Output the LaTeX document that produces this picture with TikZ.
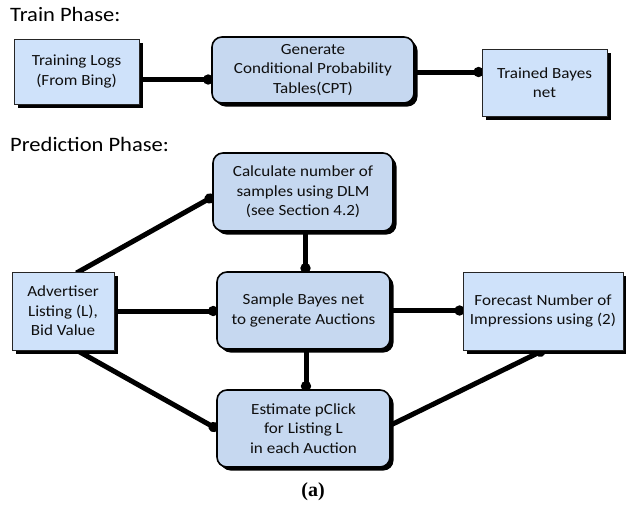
\documentclass[tikz,border=0pt]{standalone}
\usepackage{fontspec}
\setmainfont[FakeStretch=1.1]{Carlito}
\newfontfamily\capfont{Liberation Serif}
\usetikzlibrary{arrows.meta,shadows,backgrounds}
\definecolor{rectfill}{RGB}{207,226,250}
\definecolor{roundfill}{RGB}{198,216,240}
\definecolor{txt}{RGB}{15,15,15}
\tikzset{
  boxbase/.style={align=center, inner sep=0pt, text=txt,
    font=\fontsize{15.5}{19.5}\selectfont,
    drop shadow={shadow xshift=3.5pt, shadow yshift=-3.5pt, fill=black, opacity=1}},
  rectbox/.style={boxbase, draw=black!85, line width=0.9pt, fill=rectfill},
  roundbox/.style={boxbase, draw=black, line width=1.6pt, fill=roundfill, rounded corners=10pt},
  conn/.style={line width=5pt, -{Circle[length=10pt,width=10pt]}, shorten >=-2pt, shorten <=-3pt},
  heading/.style={font=\fontsize{20.5}{22}\selectfont, text=black, anchor=base west, inner sep=0pt}
}
\begin{document}
\begin{tikzpicture}[x=1pt,y=-1pt]
\useasboundingbox (0,0) rectangle (626,512);

\node[heading] (h1) at (10,21) {Train Phase:};
\node[heading] (h2) at (10,151) {Prediction Phase:};

\node[rectbox, minimum width=125pt, minimum height=65pt] (train) at (76.5,71.5) {Training Logs\\(From Bing)};
\node[roundbox, minimum width=202pt, minimum height=66pt] (cpt) at (313,70) {Generate\\Conditional Probability\\Tables(CPT)};
\node[rectbox, minimum width=125pt, minimum height=67pt] (trained) at (544.5,82.5) {Trained Bayes\\net};

\node[roundbox, minimum width=180pt, minimum height=78pt] (calc) at (303,192) {Calculate number of\\samples using DLM\\(see Section 4.2)};
\node[rectbox, minimum width=102pt, minimum height=78pt] (adv) at (63,311) {Advertiser\\Listing (L),\\Bid Value};
\node[roundbox, minimum width=173pt, minimum height=77pt] (sample) at (303.5,310.5) {Sample Bayes net\\to generate Auctions};
\node[rectbox, minimum width=160pt, minimum height=78pt] (forecast) at (543,311) {Forecast Number of\\Impressions using (2)};
\node[roundbox, minimum width=173pt, minimum height=77pt] (est) at (303.5,428.5) {Estimate pClick\\for Listing L\\in each Auction};

\node[font=\capfont\bfseries\fontsize{20}{22}\selectfont, inner sep=0pt] (cap) at (313,492) {(a)};

\begin{pgfonlayer}{background}
\draw[conn] ([yshift=-8pt]train.east) -- ([yshift=-8pt]train.east -| cpt.west);
\draw[conn] ([yshift=-2pt]cpt.east) -- ([yshift=-2pt]cpt.east -| trained.west);
\draw[conn] ([xshift=16pt]adv.north) -- ([yshift=-5pt]calc.west);
\draw[conn] (adv.east) -- (adv.east -| sample.west);
\draw[conn] ([xshift=2.5pt]calc.south) -- ([xshift=2.5pt]calc.south |- sample.north);
\draw[conn] (sample.east) -- (sample.east -| forecast.west);
\draw[conn] ([xshift=2.5pt]sample.south) -- ([xshift=2.5pt]sample.south |- est.north);
\draw[conn] ([xshift=14pt]adv.south) -- (est.west);
\draw[conn] ([yshift=3.5pt]est.east) -- (forecast.south);
\end{pgfonlayer}
\end{tikzpicture}
\end{document}
